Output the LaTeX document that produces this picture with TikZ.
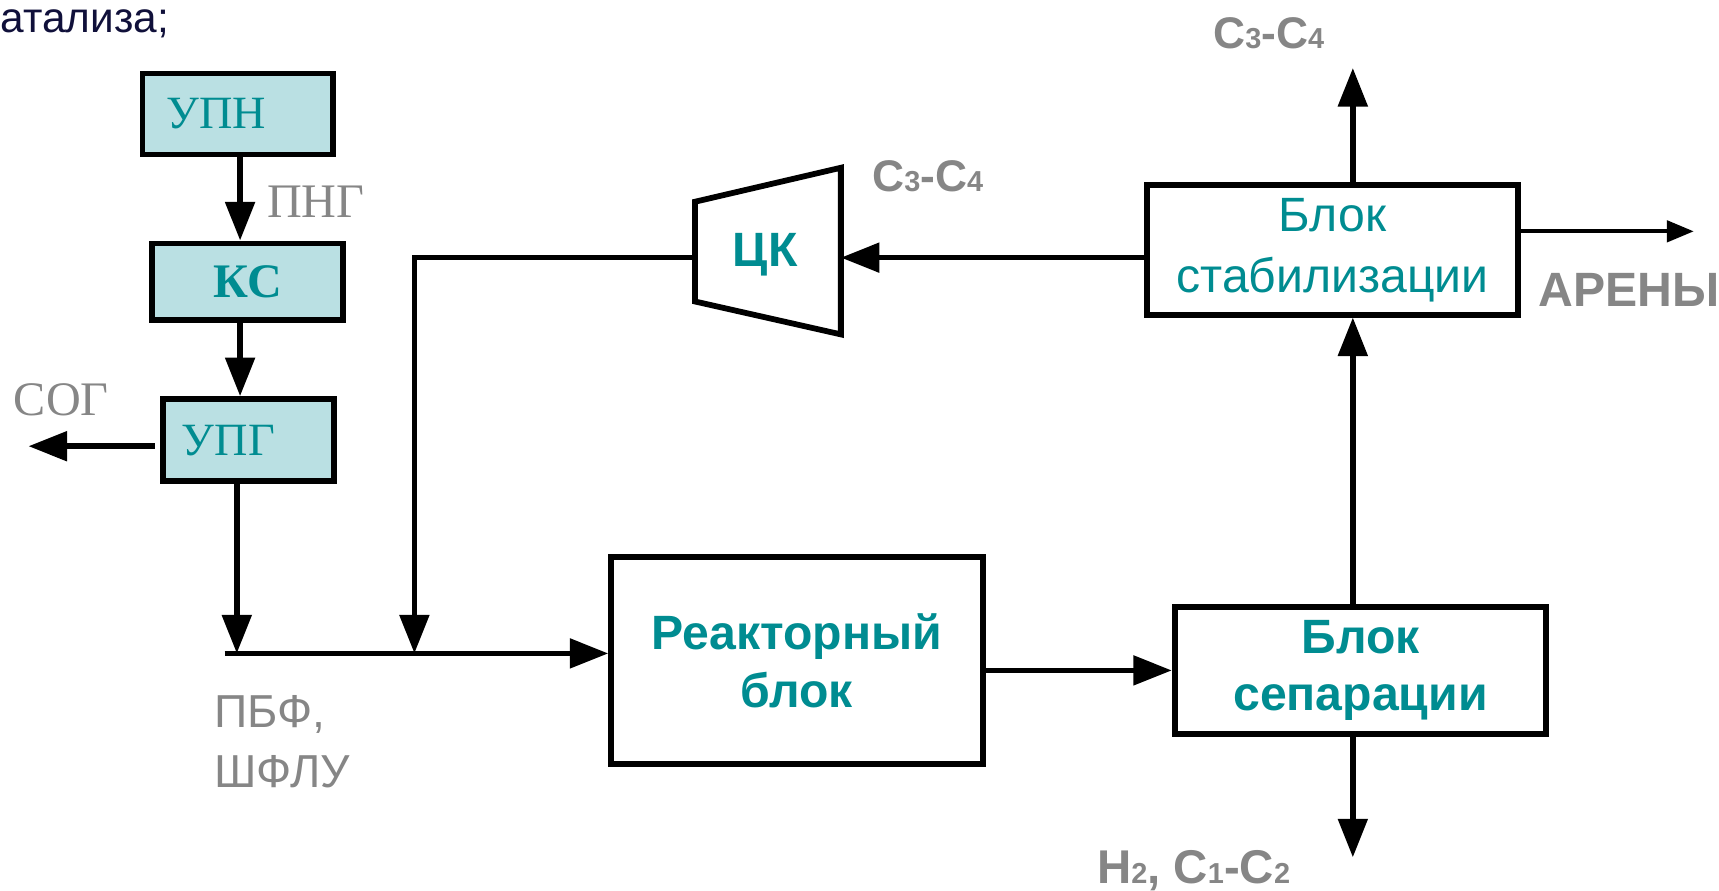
\documentclass[tikz,border=0pt]{standalone}
\usepackage{fontspec}
\setmainfont{Liberation Sans}
\newfontfamily\timesfont{Liberation Serif}
\usepackage{tikz}
\usetikzlibrary{arrows.meta,positioning,calc}
\definecolor{unitteal}{RGB}{0,140,145}
\definecolor{unitfill}{RGB}{186,224,227}
\definecolor{streamgray}{RGB}{134,134,134}
\definecolor{headnavy}{RGB}{16,16,58}
\newcommand{\idx}[1]{{\fontsize{7.5}{7.5}\selectfont #1}}

\begin{document}
\begin{tikzpicture}[x=0.1mm,y=-0.1mm,
    unit/.style={draw,line width=1.5pt,minimum width=33.9mm,align=center,text=unitteal},
    prep/.style={draw,line width=1.5pt,fill=unitfill,text=unitteal,inner ysep=0pt},
    flow/.style={line width=1.45pt,-{Triangle[length=10pt,width=7.5pt]}},
    tag/.style={text=streamgray,inner sep=0pt,anchor=base west}]
  \useasboundingbox (0,0) rectangle (1568,812);
  \node[font=\fontsize{11}{13}\selectfont,text=headnavy,inner sep=0pt,anchor=base west] (title) at (0,30) {атализа;};

  \node[prep,minimum height=7.4mm,text width=13mm,inner xsep=2.2mm,align=left,font=\timesfont\fontsize{12}{15}\selectfont] (upn) at (217,104) {УПН};
  \node[prep,minimum width=17.4mm,minimum height=7mm,font=\timesfont\bfseries\fontsize{12.5}{15}\selectfont] (ks) at (226,257) {КС};
  \node[prep,minimum height=7.5mm,text width=12.2mm,inner xsep=1.7mm,align=left,font=\timesfont\fontsize{12}{15}\selectfont] (upg) at (227,401.5) {УПГ};

  \node[unit,minimum height=18.9mm,font=\bfseries\fontsize{12.5}{15}\selectfont] (reactor) at (727,602.5) {Реакторный\\блок};
  \node[unit,minimum height=11.3mm,font=\bfseries\fontsize{12.5}{15}\selectfont] (sep) at (1241,611.5) {Блок\\сепарации};
  \node[unit,minimum height=11.2mm,font=\fontsize{12.5}{15.8}\selectfont] (stab) at (1215.5,228) {Блок\\стабилизации};

  \draw[line width=1.5pt] (634,184) -- (767,153) -- (767,305) -- (634,275) -- cycle;
  \node[text=unitteal,font=\bfseries\fontsize{12.5}{15}\selectfont] (ck) at (698,232) {ЦК};

  \coordinate (prepaxis) at (219,0);
  \coordinate (sogfrom) at (141,407);
  \coordinate (sogto) at (26,407);
  \coordinate (drop) at (216,596);
  \coordinate (feed) at (205,596);
  \coordinate (join) at (378,596);
  \coordinate (bend) at (378,235);
  \coordinate (ckin) at (767,235);
  \coordinate (ckout) at (634,235);
  \coordinate (riser) at (1234,0);
  \coordinate (lighttop) at (1234,62);
  \coordinate (gasout) at (1234,782);
  \coordinate (arenout) at (1545,211);

  \draw[flow] (upn.south -| prepaxis) -- (ks.north -| prepaxis);
  \draw[flow] (ks.south -| prepaxis) -- (upg.north -| prepaxis);
  \draw[flow] (sogfrom) -- (sogto);
  \draw[flow] (upg.south -| drop) -- (drop);
  \draw[flow] (feed) -- (feed -| reactor.west);
  \draw[flow] (ckout) -- (bend) -- (join);
  \draw[flow] (stab.west |- ckin) -- (ckin);
  \draw[flow] (sep.west -| reactor.east) -- (sep.west);
  \draw[flow] (sep.north -| riser) -- (stab.south -| riser);
  \draw[flow] (stab.north -| riser) -- (lighttop);
  \draw[flow] (sep.south -| riser) -- (gasout);
  \draw[line width=1.1pt,-{Triangle[length=7pt,width=5.5pt]}] (stab.east |- arenout) -- (arenout);

  \node[tag,font=\timesfont\fontsize{12.5}{15}\selectfont] (png) at (243,198) {ПНГ};
  \node[tag,font=\timesfont\fontsize{12.5}{15}\selectfont] (sog) at (12,379) {СОГ};
  \node[tag,anchor=north west,align=left,font=\fontsize{12}{15.4}\selectfont] (feedtag) at (195,634) {ПБФ,\\ШФЛУ};
  \node[tag,font=\bfseries\fontsize{11.5}{14}\selectfont] (ckgas) at (795,175) {C\idx{3}-C\idx{4}};
  \node[tag,font=\bfseries\fontsize{11.5}{14}\selectfont] (topgas) at (1106,44) {C\idx{3}-C\idx{4}};
  \node[tag,font=\bfseries\fontsize{12.5}{15}\selectfont] (arenes) at (1403,280) {АРЕНЫ};
  \node[tag,font=\bfseries\fontsize{12.3}{14}\selectfont] (drygas) at (1000,806) {H\idx{2}, C\idx{1}-C\idx{2}};
\end{tikzpicture}
\end{document}
